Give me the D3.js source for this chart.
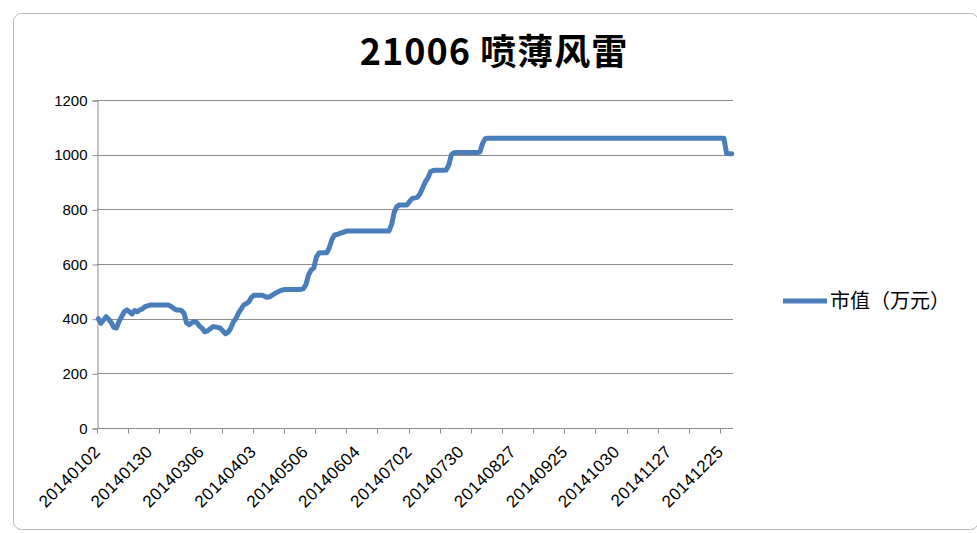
<!DOCTYPE html>
<html>
<head>
<meta charset="utf-8">
<script src="https://d3js.org/d3.v7.min.js"></script>
<style>
  body { margin: 0; background: #fff; }
  svg { display: block; }
</style>
</head>
<body>
<svg width="977" height="533"></svg>
<script>
// trading days of 2014, one array per month
var monthDays = [
  [2, 3, 6, 7, 8, 9, 10, 13, 14, 15, 16, 17, 20, 21, 22, 23, 24, 27, 28, 29, 30],
  [7, 10, 11, 12, 13, 14, 17, 18, 19, 20, 21, 24, 25, 26, 27, 28],
  [3, 4, 5, 6, 7, 10, 11, 12, 13, 14, 17, 18, 19, 20, 21, 24, 25, 26, 27, 28, 31],
  [1, 2, 3, 4, 8, 9, 10, 11, 14, 15, 16, 17, 18, 21, 22, 23, 24, 25, 28, 29, 30],
  [5, 6, 7, 8, 9, 12, 13, 14, 15, 16, 19, 20, 21, 22, 23, 26, 27, 28, 29, 30],
  [3, 4, 5, 6, 9, 10, 11, 12, 13, 16, 17, 18, 19, 20, 23, 24, 25, 26, 27, 30],
  [1, 2, 3, 4, 7, 8, 9, 10, 11, 14, 15, 16, 17, 18, 21, 22, 23, 24, 25, 28, 29, 30, 31],
  [1, 4, 5, 6, 7, 8, 11, 12, 13, 14, 15, 18, 19, 20, 21, 22, 25, 26, 27, 28, 29],
  [1, 2, 3, 4, 5, 9, 10, 11, 12, 15, 16, 17, 18, 19, 22, 23, 24, 25, 26, 29, 30],
  [8, 9, 10, 13, 14, 15, 16, 17, 20, 21, 22, 23, 24, 27, 28, 29, 30, 31],
  [3, 4, 5, 6, 7, 10, 11, 12, 13, 14, 17, 18, 19, 20, 21, 24, 25, 26, 27, 28],
  [1, 2, 3, 4, 5, 8, 9, 10, 11, 12, 15, 16, 17, 18, 19, 22, 23, 24, 25, 26, 29, 30, 31]
];

// 市值（万元）, one value per trading day
var marketValue = [
  400, 383, 395, 407, 398, 385, 368, 366, 390, 408,
  425, 432, 425, 417, 430, 425, 432, 436, 444, 447,
  450, 450, 450, 450, 450, 450, 450, 450, 445, 438,
  432, 432, 430, 420, 385, 378, 385, 390, 385, 372,
  365, 352, 355, 362, 370, 370, 368, 365, 355, 345,
  350, 365, 388, 400, 420, 435, 450, 455, 462, 478,
  486, 486, 486, 486, 482, 478, 480, 486, 492, 497,
  502, 505, 507, 507, 507, 507, 507, 507, 507, 510,
  525, 560, 578, 585, 625, 640, 641, 641, 641, 660,
  690, 706, 708, 712, 715, 718, 721, 721, 721, 721,
  721, 721, 721, 721, 721, 721, 721, 721, 721, 721,
  721, 721, 721, 745, 790, 810, 816, 816, 816, 816,
  830, 840, 842, 845, 858, 880, 901, 915, 938, 942,
  943, 943, 943, 943, 944, 962, 999, 1007, 1008, 1008,
  1008, 1008, 1008, 1008, 1008, 1008, 1008, 1010, 1040, 1058,
  1060, 1060, 1060, 1060, 1060, 1060, 1060, 1060, 1060, 1060,
  1060, 1060, 1060, 1060, 1060, 1060, 1060, 1060, 1060, 1060,
  1060, 1060, 1060, 1060, 1060, 1060, 1060, 1060, 1060, 1060,
  1060, 1060, 1060, 1060, 1060, 1060, 1060, 1060, 1060, 1060,
  1060, 1060, 1060, 1060, 1060, 1060, 1060, 1060, 1060, 1060,
  1060, 1060, 1060, 1060, 1060, 1060, 1060, 1060, 1060, 1060,
  1060, 1060, 1060, 1060, 1060, 1060, 1060, 1060, 1060, 1060,
  1060, 1060, 1060, 1060, 1060, 1060, 1060, 1060, 1060, 1060,
  1060, 1060, 1060, 1060, 1060, 1060, 1060, 1060, 1060, 1060,
  1060, 1060, 1005, 1003, 1003
];

var xTickLabels = ["20140102", "20140130", "20140306", "20140403", "20140506",
  "20140604", "20140702", "20140730", "20140827", "20140925",
  "20141030", "20141127", "20141225"];
var yTicks = [0, 200, 400, 600, 800, 1000, 1200];

var chartTitle = "21006 喷薄风雷";
var seriesName = "市值（万元）";

var dates = [];
monthDays.forEach(function (days, m) {
  days.forEach(function (d) {
    dates.push("2014" + String(m + 1).padStart(2, "0") + String(d).padStart(2, "0"));
  });
});
var data = dates.map(function (d, i) { return { date: d, value: marketValue[i] }; });

var svg = d3.select("svg"),
  width = +svg.attr("width"),
  height = +svg.attr("height");

var plotLeft = 97, plotRight = 733, plotTop = 100, plotBottom = 428;
var blue = "#4a7ebb";
var gridGrey = "#8c8c8c";
var labelFont = "'Liberation Sans', Arial, sans-serif";

// chart frame
svg.append("rect")
  .attr("x", 13.5).attr("y", 13.5)
  .attr("width", width - 12).attr("height", 516)
  .attr("rx", 8)
  .attr("fill", "#fff")
  .attr("stroke", "#b4b8bd");

var x = d3.scaleBand().domain(dates).range([plotLeft, plotRight]);
var y = d3.scaleLinear().domain([0, 1200]).range([plotBottom, plotTop]);

// gridlines
svg.append("g")
  .selectAll("line")
  .data(yTicks.slice(1))
  .enter()
  .append("line")
  .attr("x1", plotLeft).attr("x2", plotRight)
  .attr("y1", function (d) { return Math.round(y(d)) + 0.5; })
  .attr("y2", function (d) { return Math.round(y(d)) + 0.5; })
  .attr("stroke", gridGrey);

// y axis
var yAxis = svg.append("g")
  .attr("transform", "translate(" + (plotLeft + 0.5) + ",0.5)")
  .call(d3.axisLeft(y).tickValues(yTicks).tickFormat(d3.format("d")).tickSize(5).tickPadding(5));
yAxis.select(".domain").attr("stroke", gridGrey);
yAxis.selectAll(".tick line").attr("stroke", gridGrey);
yAxis.selectAll("text")
  .attr("font-family", labelFont)
  .attr("font-size", 15)
  .attr("fill", "#000");

// x axis: tick marks every 12 categories, labels every 20
var xg = svg.append("g").attr("transform", "translate(0," + (plotBottom + 0.5) + ")");
xg.append("line")
  .attr("x1", plotLeft).attr("x2", plotRight)
  .attr("stroke", gridGrey);
xg.selectAll("line.tk")
  .data(dates.filter(function (d, i) { return i % 12 === 0; }))
  .enter()
  .append("line")
  .attr("class", "tk")
  .attr("x1", function (d) { return Math.round(x(d)) + 0.5; })
  .attr("x2", function (d) { return Math.round(x(d)) + 0.5; })
  .attr("y1", 0).attr("y2", 5)
  .attr("stroke", gridGrey);
xg.selectAll("text")
  .data(xTickLabels)
  .enter()
  .append("text")
  .attr("transform", function (d) {
    return "translate(" + (x(d) + x.bandwidth() / 2 - 1) + ",20) rotate(-45)";
  })
  .attr("text-anchor", "end")
  .attr("dy", "0.35em")
  .attr("font-family", labelFont)
  .attr("font-size", 17)
  .attr("letter-spacing", 0.4)
  .attr("fill", "#000")
  .text(function (d) { return d; });

// series line
var line = d3.line()
  .x(function (d) { return x(d.date) + x.bandwidth() / 2; })
  .y(function (d) { return y(d.value); });

svg.append("path")
  .datum(data)
  .attr("d", line)
  .attr("fill", "none")
  .attr("stroke", blue)
  .attr("stroke-width", 5)
  .attr("stroke-linejoin", "round")
  .attr("stroke-linecap", "round");

// title
svg.append("text")
  .attr("x", 494).attr("y", 65)
  .attr("text-anchor", "middle")
  .attr("font-family", "'Noto Sans CJK SC', sans-serif")
  .attr("font-weight", "bold")
  .attr("font-size", 36)
  .attr("letter-spacing", 1)
  .attr("fill", "#000")
  .text(chartTitle);

// legend
var legend = svg.append("g").attr("transform", "translate(783,301)");
legend.append("line")
  .attr("x1", 0).attr("x2", 44)
  .attr("stroke", blue)
  .attr("stroke-width", 5);
legend.append("text")
  .attr("x", 47).attr("y", 0)
  .attr("dy", "0.35em")
  .attr("font-family", "'Noto Sans CJK SC', sans-serif")
  .attr("font-size", 20)
  .attr("fill", "#000")
  .text(seriesName);
</script>
</body>
</html>
